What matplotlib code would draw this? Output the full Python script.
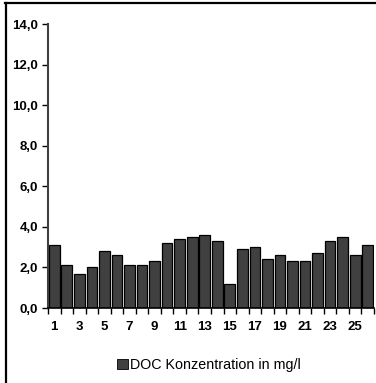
import matplotlib.pyplot as plt
from matplotlib.lines import Line2D
from matplotlib.patches import Patch

plt.rcParams['font.family'] = ['Liberation Sans', 'DejaVu Sans']

# DOC concentration per sample
samples = list(range(1, 27))
doc = [3.1, 2.1, 1.7, 2.0, 2.8, 2.6, 2.1, 2.1, 2.3, 3.2, 3.4, 3.5, 3.6,
       3.3, 1.2, 2.9, 3.0, 2.4, 2.6, 2.3, 2.3, 2.7, 3.3, 3.5, 2.6, 3.1]
yticks = [0, 2, 4, 6, 8, 10, 12, 14]
ytick_labels = ['0,0', '2,0', '4,0', '6,0', '8,0', '10,0', '12,0', '14,0']
legend_label = 'DOC Konzentration in mg/l'

fig = plt.figure(figsize=(3.76, 3.83), dpi=100)
ax = fig.add_axes([0.1277, 0.1958, 0.8670, 0.7415])

ax.bar(samples, doc, width=0.85, color='#404040', edgecolor='black', linewidth=0.9)

ax.set_xlim(0.5, 26.5)
ax.set_ylim(0, 14)
ax.set_yticks(yticks)
ax.set_yticklabels(ytick_labels, fontweight='bold', fontsize=9.5)

# labels on odd samples, tick marks between categories
ax.set_xticks(samples[::2])
ax.set_xticklabels([str(s) for s in samples[::2]], fontweight='bold', fontsize=9.5)
ax.set_xticks([s + 0.5 for s in [0] + samples], minor=True)
ax.tick_params(axis='x', which='major', length=0, pad=9)
ax.tick_params(axis='x', which='minor', length=4, width=1, direction='out')
ax.tick_params(axis='y', length=4, width=1, direction='out', pad=3)

for side in ['top', 'right']:
    ax.spines[side].set_visible(False)
ax.spines['left'].set_color('#404040')
ax.spines['left'].set_linewidth(1.5)
ax.spines['bottom'].set_linewidth(1.2)

handle = Patch(facecolor='#404040', edgecolor='black', linewidth=0.6)
fig.legend([handle], [legend_label], loc='center', bbox_to_anchor=(0.555, 0.047),
           frameon=False, fontsize=10.3, handlelength=0.75, handleheight=0.75,
           handletextpad=0.15)

# outer chart border (only top and left visible in the crop)
fig.add_artist(Line2D([0.014, 1.0], [0.991, 0.991], color='black', linewidth=1.6,
                      transform=fig.transFigure))
fig.add_artist(Line2D([0.015, 0.015], [0.0, 0.991], color='black', linewidth=1.6,
                      transform=fig.transFigure))

fig.savefig('out.png', dpi=100)
